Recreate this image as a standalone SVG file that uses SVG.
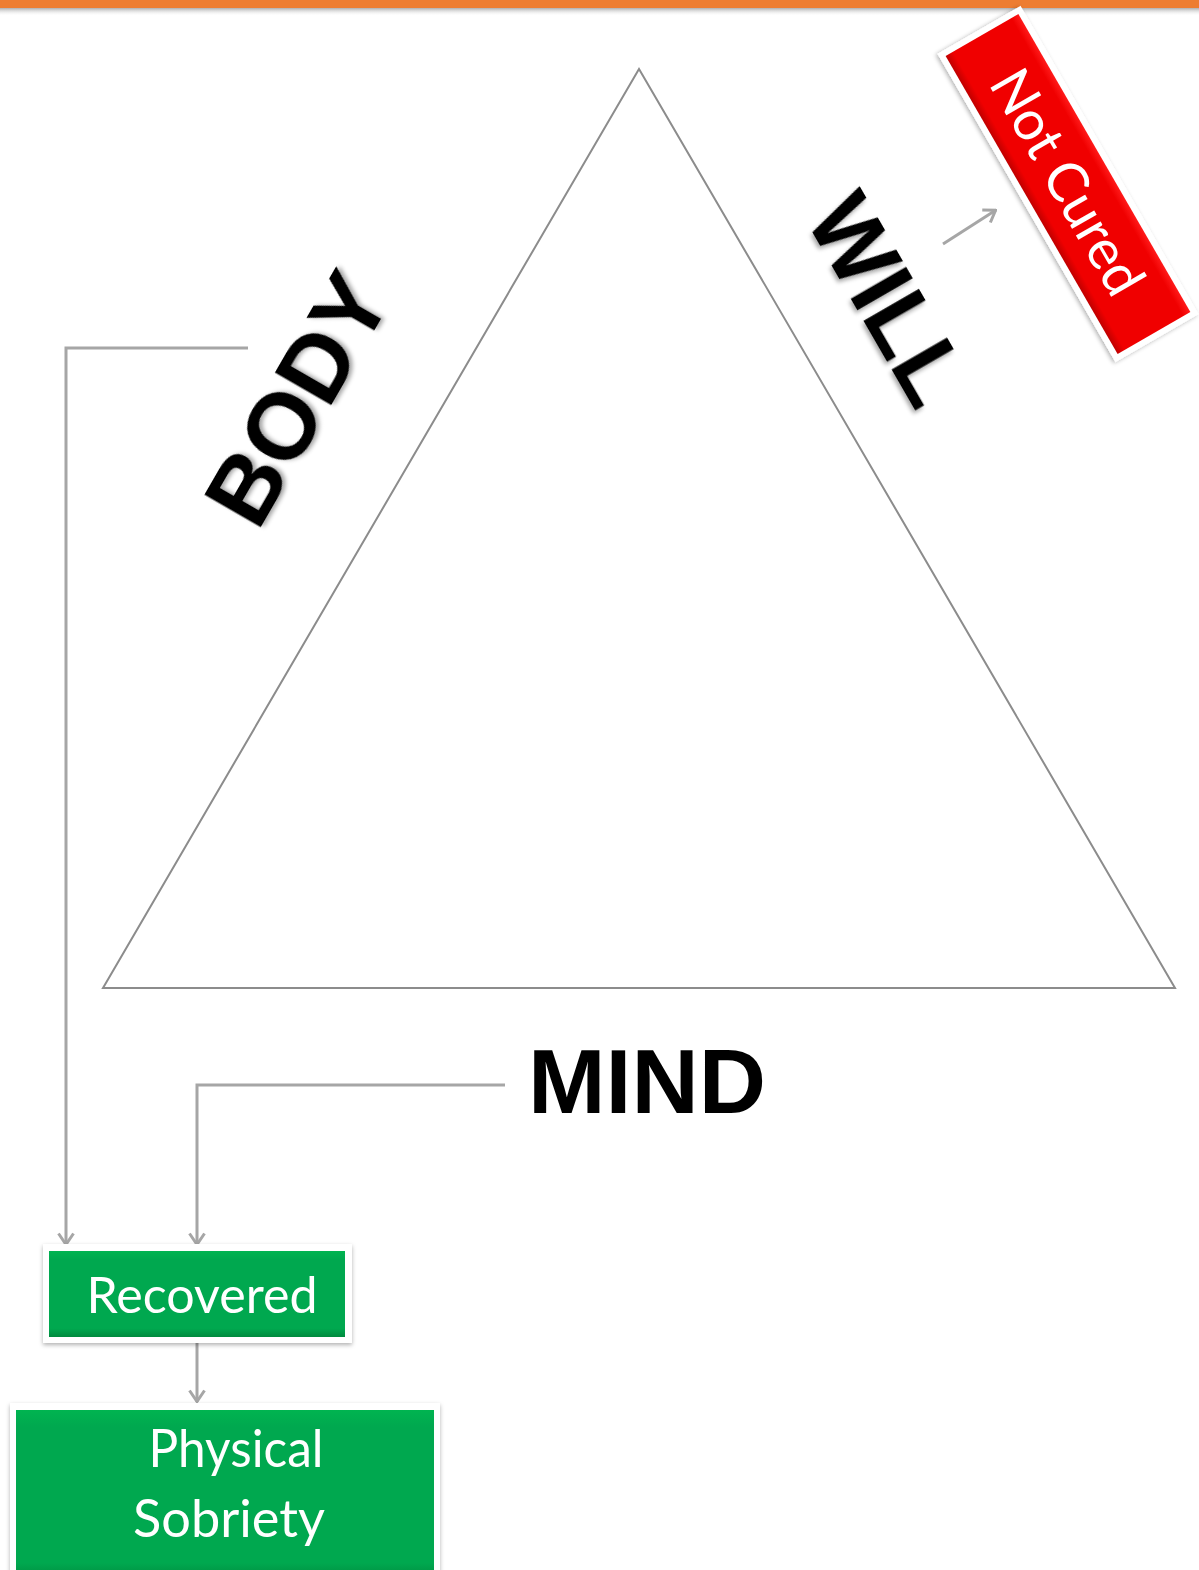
<svg xmlns="http://www.w3.org/2000/svg" width="1199" height="1570" viewBox="0 0 1199 1570">
<defs>
<style>
.conn{fill:none;stroke:#A6A6A6;stroke-width:3}
.big{font-family:"Liberation Sans",Arial,sans-serif;font-weight:bold;fill:#000}
.lbl{font-family:Lato,"Open Sans",sans-serif;fill:#fff;text-anchor:middle}
</style>
<marker id="arr" viewBox="0 0 14 18" refX="13" refY="9" markerWidth="14" markerHeight="18" markerUnits="userSpaceOnUse" orient="auto">
<path d="M1.5,1.5 L12.5,9 L1.5,16.5" fill="none" stroke="#A6A6A6" stroke-width="3"/>
</marker>
<linearGradient id="green" x1="0" y1="0" x2="0" y2="1">
<stop offset="0" stop-color="#00B450"/><stop offset="0.1" stop-color="#00A84F"/><stop offset="0.9" stop-color="#00A84F"/><stop offset="1" stop-color="#008A3E"/>
</linearGradient>
<linearGradient id="red" x1="0" y1="0" x2="0" y2="1">
<stop offset="0" stop-color="#FF1A1A"/><stop offset="0.1" stop-color="#F00000"/><stop offset="0.9" stop-color="#F00000"/><stop offset="1" stop-color="#C00000"/>
</linearGradient>
<linearGradient id="topshadow" x1="0" y1="0" x2="0" y2="1">
<stop offset="0" stop-color="#999" stop-opacity="0.8"/><stop offset="1" stop-color="#fff" stop-opacity="0"/>
</linearGradient>
<filter id="ts" x="-10%" y="-10%" width="130%" height="130%">
<feDropShadow dx="2" dy="3" stdDeviation="2" flood-color="#000" flood-opacity="0.35"/>
</filter>
<filter id="bs" x="-10%" y="-10%" width="130%" height="130%">
<feDropShadow dx="0" dy="2" stdDeviation="2" flood-color="#000" flood-opacity="0.3"/>
</filter>
</defs>
<rect x="0" y="0" width="1199" height="1570" fill="#fff"/>
<g id="topbar">
<rect x="0" y="8" width="1199" height="8" fill="url(#topshadow)"/>
<rect x="0" y="0" width="1199" height="8" fill="#ED7D31"/>
</g>
<g id="triangle">
<polygon points="639,69 103,988 1175,988" fill="none" stroke="#8C8C8C" stroke-width="2"/>
</g>
<g id="connectors">
<polyline class="conn" points="248,348 66,348 66,1245" marker-end="url(#arr)"/>
<polyline class="conn" points="505,1085 197,1085 197,1245" marker-end="url(#arr)"/>
<line class="conn" x1="197" y1="1340" x2="197" y2="1402" marker-end="url(#arr)"/>
<line class="conn" x1="943" y1="244" x2="996" y2="210" marker-end="url(#arr)"/>
</g>
<g id="body">
<text class="big" filter="url(#ts)" font-size="94" text-anchor="middle" transform="translate(296,398) rotate(-60)" y="34">BODY</text>
</g>
<g id="will">
<text class="big" filter="url(#ts)" font-size="92" text-anchor="middle" transform="translate(889,299) rotate(60)" y="33">WILL</text>
</g>
<g id="mind">
<text class="big" font-size="90" x="528" y="1113" textLength="238" lengthAdjust="spacingAndGlyphs">MIND</text>
</g>
<g id="notcured" transform="translate(1068,184) rotate(60)">
<rect x="-178" y="-48" width="356" height="96" fill="#fff" filter="url(#bs)"/>
<rect x="-172" y="-42" width="344" height="84" fill="url(#red)"/>
<text class="lbl" font-size="56" x="-2" y="19" textLength="250" lengthAdjust="spacingAndGlyphs">Not Cured</text>
</g>
<g id="recovered">
<rect x="43" y="1244" width="309" height="99" fill="#fff" filter="url(#bs)"/>
<rect x="49" y="1251" width="296" height="86" fill="url(#green)"/>
<text class="lbl" font-size="50" x="202" y="1313" textLength="231" lengthAdjust="spacingAndGlyphs">Recovered</text>
</g>
<g id="physical">
<rect x="10" y="1403" width="430" height="180" fill="#fff" filter="url(#bs)"/>
<rect x="16" y="1410" width="418" height="170" fill="url(#green)"/>
<text class="lbl" font-size="52" x="236" y="1467" textLength="175" lengthAdjust="spacingAndGlyphs">Physical</text>
<text class="lbl" font-size="52" x="229" y="1537" textLength="192" lengthAdjust="spacingAndGlyphs">Sobriety</text>
</g>
</svg>
